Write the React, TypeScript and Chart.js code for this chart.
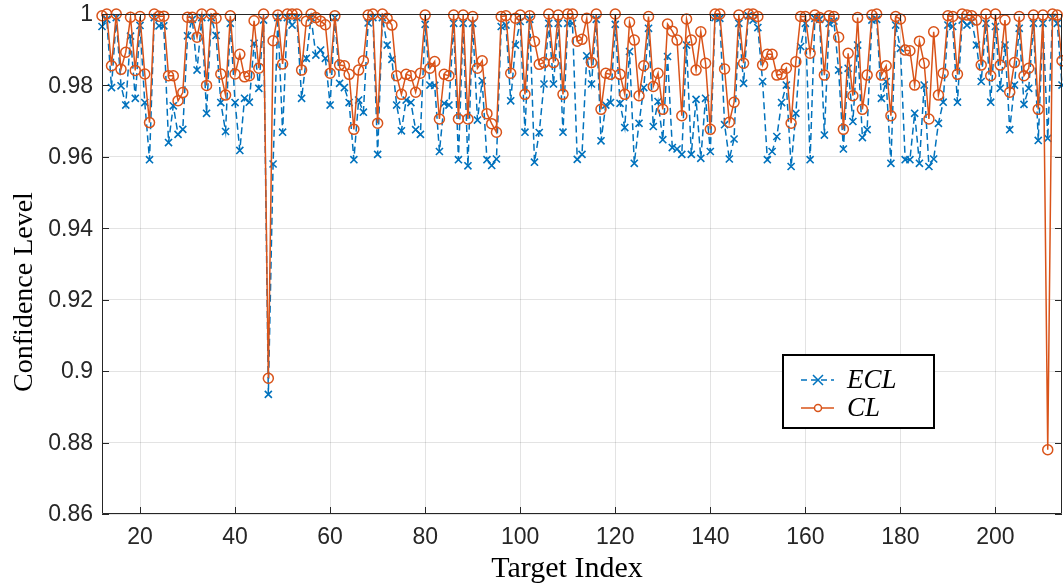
import React, { useEffect, useRef } from "react";
import { Chart, registerables } from "chart.js";

Chart.register(...registerables);

const targetIndex: number[] = [
  12, 13, 14, 15, 16, 17, 18, 19, 20, 21, 22, 23, 24, 25, 26, 27, 28, 29, 30, 31,
  32, 33, 34, 35, 36, 37, 38, 39, 40, 41, 42, 43, 44, 45, 46, 47, 48, 49, 50, 51,
  52, 53, 54, 55, 56, 57, 58, 59, 60, 61, 62, 63, 64, 65, 66, 67, 68, 69, 70, 71,
  72, 73, 74, 75, 76, 77, 78, 79, 80, 81, 82, 83, 84, 85, 86, 87, 88, 89, 90, 91,
  92, 93, 94, 95, 96, 97, 98, 99, 100, 101, 102, 103, 104, 105, 106, 107, 108, 109, 110, 111,
  112, 113, 114, 115, 116, 117, 118, 119, 120, 121, 122, 123, 124, 125, 126, 127, 128, 129, 130, 131,
  132, 133, 134, 135, 136, 137, 138, 139, 140, 141, 142, 143, 144, 145, 146, 147, 148, 149, 150, 151,
  152, 153, 154, 155, 156, 157, 158, 159, 160, 161, 162, 163, 164, 165, 166, 167, 168, 169, 170, 171,
  172, 173, 174, 175, 176, 177, 178, 179, 180, 181, 182, 183, 184, 185, 186, 187, 188, 189, 190, 191,
  192, 193, 194, 195, 196, 197, 198, 199, 200, 201, 202, 203, 204, 205, 206, 207, 208, 209, 210, 211,
  212, 213, 214,
];

const ecl: number[] = [
  0.9965, 0.9985, 0.9794, 0.999, 0.9799, 0.9745, 0.9938, 0.9764, 0.9968, 0.9752, 0.9592, 0.999, 0.9967, 0.9967, 0.964, 0.9743, 0.9663, 0.9677, 0.9939, 0.9985,
  0.9843, 0.999, 0.9722, 0.999, 0.994, 0.9752, 0.9671, 0.9974, 0.9752, 0.9618, 0.9764, 0.9753, 0.9918, 0.9792, 0.9983, 0.8935, 0.958, 0.999, 0.9669, 0.999,
  0.9969, 0.999, 0.9764, 0.9876, 0.999, 0.9885, 0.9899, 0.9876, 0.9745, 0.999, 0.9806, 0.9794, 0.9752, 0.9592, 0.9759, 0.9725, 0.9975, 0.999, 0.9607, 0.999,
  0.9913, 0.9873, 0.9745, 0.9673, 0.9759, 0.9752, 0.9676, 0.9663, 0.9971, 0.9801, 0.98, 0.9615, 0.975, 0.9745, 0.9974, 0.9592, 0.9974, 0.9575, 0.9974, 0.9703,
  0.9813, 0.9592, 0.9576, 0.9594, 0.9965, 0.9969, 0.9757, 0.9913, 0.9979, 0.9669, 0.9985, 0.9585, 0.9668, 0.9804, 0.9974, 0.9804, 0.9974, 0.9669, 0.9974, 0.9974,
  0.9593, 0.9607, 0.9883, 0.9804, 0.9985, 0.9645, 0.9745, 0.9752, 0.9971, 0.975, 0.9682, 0.9895, 0.9582, 0.9694, 0.9794, 0.996, 0.9685, 0.9755, 0.9648, 0.9881,
  0.9626, 0.9622, 0.9607, 0.9913, 0.9607, 0.9761, 0.9596, 0.9764, 0.9615, 0.999, 0.9988, 0.969, 0.9594, 0.965, 0.9974, 0.9806, 0.9995, 0.9983, 0.9962, 0.9811,
  0.9592, 0.9615, 0.9657, 0.9752, 0.9801, 0.9573, 0.9722, 0.9909, 0.9974, 0.9592, 0.9988, 0.9985, 0.9661, 0.9974, 0.998, 0.9843, 0.9622, 0.9848, 0.9699, 0.9913,
  0.9654, 0.9676, 0.9983, 0.9985, 0.9764, 0.9811, 0.9582, 0.9969, 0.9904, 0.9592, 0.9592, 0.9722, 0.9582, 0.9801, 0.9573, 0.9594, 0.9694, 0.9753, 0.9969, 0.9965,
  0.9753, 0.9983, 0.9969, 0.9979, 0.9913, 0.9811, 0.9974, 0.9753, 0.9965, 0.9792, 0.9913, 0.9676, 0.9801, 0.996, 0.9747, 0.9792, 0.9974, 0.9646, 0.9974, 0.9652,
  0.999, 0.9974, 0.9801,
];

const cl: number[] = [
  0.9995, 1.0, 0.9855, 1.0, 0.9845, 0.9893, 0.9991, 0.9842, 0.9993, 0.9832, 0.9696, 1.0, 0.9994, 0.9994, 0.9827, 0.9827, 0.9757, 0.978, 0.9991, 0.9991,
  0.9935, 1.0, 0.98, 1.0, 0.9988, 0.9832, 0.9773, 0.9995, 0.9832, 0.9887, 0.9824, 0.9827, 0.9981, 0.9848, 1.0, 0.898, 0.9925, 0.9997, 0.986, 1.0,
  1.0, 1.0, 0.9843, 0.998, 1.0, 0.999, 0.998, 0.997, 0.9834, 0.9995, 0.9857, 0.9855, 0.9831, 0.9677, 0.9843, 0.9869, 0.9997, 1.0, 0.9694, 1.0,
  0.9988, 0.9969, 0.9827, 0.9775, 0.9831, 0.9827, 0.9781, 0.9834, 0.9997, 0.9848, 0.9867, 0.9706, 0.9831, 0.9827, 0.9997, 0.9706, 0.9997, 0.9706, 0.9993, 0.9848,
  0.9869, 0.9721, 0.9693, 0.9669, 0.9993, 0.9995, 0.9834, 0.9988, 0.9997, 0.9775, 0.9995, 0.9923, 0.9859, 0.9864, 1.0, 0.9864, 0.9997, 0.9775, 1.0, 1.0,
  0.9924, 0.9929, 0.9988, 0.9864, 1.0, 0.9733, 0.9834, 0.9831, 1.0, 0.9831, 0.9775, 0.9977, 0.9927, 0.9771, 0.9855, 0.9993, 0.9797, 0.9834, 0.9733, 0.9972,
  0.9952, 0.9927, 0.9715, 0.9986, 0.9927, 0.9843, 0.995, 0.9862, 0.9677, 1.0, 1.0, 0.9846, 0.9697, 0.9753, 0.9997, 0.9862, 1.0, 1.0, 0.9993, 0.9857,
  0.9887, 0.9887, 0.9829, 0.9831, 0.9848, 0.9694, 0.9866, 0.9993, 0.9993, 0.989, 0.9997, 0.999, 0.9829, 0.9995, 0.9993, 0.9935, 0.9677, 0.989, 0.9771, 0.999,
  0.9733, 0.9829, 0.9997, 1.0, 0.9829, 0.9855, 0.9715, 0.9993, 0.9986, 0.9899, 0.9897, 0.9801, 0.9924, 0.9862, 0.9706, 0.995, 0.9773, 0.9834, 0.9995, 0.9993,
  0.9831, 1.0, 0.9997, 0.9995, 0.9983, 0.9857, 1.0, 0.9827, 1.0, 0.9857, 0.9983, 0.9781, 0.9864, 0.9993, 0.9827, 0.9848, 0.9997, 0.9733, 0.9997, 0.878,
  1.0, 0.9997, 0.9869,
];

const xTicks: number[] = [20, 40, 60, 80, 100, 120, 140, 160, 180, 200];
const yTicks: number[] = [0.86, 0.88, 0.9, 0.92, 0.94, 0.96, 0.98, 1];
const seriesNames: string[] = ["ECL", "CL"];
const xTitle = "Target Index";
const yTitle = "Confidence Level";

const BLUE = "#0072BD";
const ORANGE = "#D95319";
const AXIS = "#262626";
const SANS = "'Liberation Sans', Arial, sans-serif";
const SERIF = "'Liberation Serif', 'Times New Roman', serif";

const fmtY = (v: number) => String(Number(v.toFixed(2)));

const boxPlugin = {
  id: "matlabBox",
  afterDatasetsDraw(chart: any) {
    const { ctx, chartArea: a, scales } = chart;
    ctx.save();
    ctx.strokeStyle = AXIS;
    ctx.lineWidth = 1;
    ctx.beginPath();
    ctx.rect(a.left + 0.5, a.top + 0.5, a.right - a.left - 1, a.bottom - a.top - 1);
    ctx.stroke();
    const tl = 7;
    ctx.beginPath();
    xTicks.forEach((t) => {
      const x = Math.round(scales.x.getPixelForValue(t)) + 0.5;
      ctx.moveTo(x, a.bottom);
      ctx.lineTo(x, a.bottom - tl);
      ctx.moveTo(x, a.top);
      ctx.lineTo(x, a.top + tl);
    });
    yTicks.forEach((t) => {
      const y = Math.round(scales.y.getPixelForValue(t)) + 0.5;
      ctx.moveTo(a.left, y);
      ctx.lineTo(a.left + tl, y);
      ctx.moveTo(a.right, y);
      ctx.lineTo(a.right - tl, y);
    });
    ctx.stroke();

    ctx.fillStyle = AXIS;
    ctx.font = `23px ${SANS}`;
    ctx.textBaseline = "middle";
    ctx.textAlign = "center";
    xTicks.forEach((t) => {
      ctx.fillText(String(t), scales.x.getPixelForValue(t), a.bottom + 24);
    });
    ctx.textAlign = "right";
    yTicks.forEach((t) => {
      ctx.fillText(fmtY(t), a.left - 9, scales.y.getPixelForValue(t) + 1);
    });

    ctx.fillStyle = "#000000";
    ctx.font = `30px ${SERIF}`;
    ctx.textAlign = "center";
    ctx.textBaseline = "alphabetic";
    ctx.fillText(xTitle, 567, 577);
    ctx.save();
    ctx.translate(32, 292);
    ctx.rotate(-Math.PI / 2);
    ctx.font = `28px ${SERIF}`;
    ctx.fillText(yTitle, 0, 0);
    ctx.restore();
    ctx.restore();
  },
  afterDraw(chart: any) {
    const { ctx } = chart;
    ctx.save();
    const bx = 783, by = 355, bw = 151, bh = 73;
    ctx.fillStyle = "#ffffff";
    ctx.fillRect(bx, by, bw, bh);
    ctx.strokeStyle = "#000000";
    ctx.lineWidth = 2;
    ctx.strokeRect(bx, by, bw, bh);
    const rows = [by + 25, by + 53];
    ctx.strokeStyle = BLUE;
    ctx.lineWidth = 1.5;
    ctx.setLineDash([6, 4]);
    ctx.beginPath();
    ctx.moveTo(801, rows[0]);
    ctx.lineTo(834, rows[0]);
    ctx.stroke();
    ctx.setLineDash([]);
    ctx.beginPath();
    ctx.moveTo(813, rows[0] - 5);
    ctx.lineTo(823, rows[0] + 5);
    ctx.moveTo(823, rows[0] - 5);
    ctx.lineTo(813, rows[0] + 5);
    ctx.stroke();
    ctx.strokeStyle = ORANGE;
    ctx.beginPath();
    ctx.moveTo(801, rows[1]);
    ctx.lineTo(834, rows[1]);
    ctx.stroke();
    ctx.fillStyle = "#ffffff";
    ctx.beginPath();
    ctx.arc(818, rows[1], 3.5, 0, Math.PI * 2);
    ctx.fill();
    ctx.stroke();
    ctx.fillStyle = "#000000";
    ctx.font = `italic 27px ${SERIF}`;
    ctx.textBaseline = "middle";
    ctx.textAlign = "left";
    ctx.fillText(seriesNames[0], 847, rows[0] + 1);
    ctx.fillText(seriesNames[1], 847, rows[1] + 1);
    ctx.restore();
  },
};

export default function App() {
  const ref = useRef<HTMLCanvasElement | null>(null);
  useEffect(() => {
    document.body.style.margin = "0";
    if (!ref.current) return;
    const chart = new Chart(ref.current, {
      type: "line",
      data: {
        datasets: [
          {
            label: seriesNames[1],
            data: targetIndex.map((x, i) => ({ x, y: cl[i] })),
            borderColor: ORANGE,
            backgroundColor: "rgba(0,0,0,0)",
            borderWidth: 1.5,
            pointStyle: "circle",
            pointRadius: 5,
            pointBorderWidth: 1.5,
            pointBorderColor: ORANGE,
            pointBackgroundColor: "rgba(0,0,0,0)",
            tension: 0,
            clip: false as any,
            order: 0,
          },
          {
            label: seriesNames[0],
            data: targetIndex.map((x, i) => ({ x, y: ecl[i] })),
            borderColor: BLUE,
            backgroundColor: "rgba(0,0,0,0)",
            borderWidth: 1.5,
            borderDash: [7, 4],
            pointStyle: "crossRot",
            pointRadius: 5,
            pointBorderWidth: 1.6,
            pointBorderColor: BLUE,
            tension: 0,
            clip: false as any,
            order: 1,
          },
        ],
      },
      options: {
        animation: false,
        responsive: true,
        maintainAspectRatio: false,
        layout: { autoPadding: false, padding: { top: 14, right: 1, left: 0, bottom: 0 } },
        plugins: { legend: { display: false }, tooltip: { enabled: false } },
        scales: {
          x: {
            type: "linear",
            min: 12,
            max: 214,
            afterFit: (s: any) => {
              s.height = 72;
            },
            afterBuildTicks: (s: any) => {
              s.ticks = xTicks.map((v) => ({ value: v }));
            },
            grid: { color: "rgba(38,38,38,0.13)", drawTicks: false, lineWidth: 1 },
            border: { display: false },
            ticks: { display: false },
          },
          y: {
            type: "linear",
            min: 0.86,
            max: 1,
            afterFit: (s: any) => {
              s.width = 102;
            },
            afterBuildTicks: (s: any) => {
              s.ticks = yTicks.map((v) => ({ value: v }));
            },
            grid: { color: "rgba(38,38,38,0.13)", drawTicks: false, lineWidth: 1 },
            border: { display: false },
            ticks: { display: false },
          },
        },
      },
      plugins: [boxPlugin],
    });
    return () => chart.destroy();
  }, []);
  return (
    <div style={{ position: "fixed", left: 0, top: 0, width: 1063, height: 586, background: "#ffffff" }}>
      <canvas ref={ref} />
    </div>
  );
}
